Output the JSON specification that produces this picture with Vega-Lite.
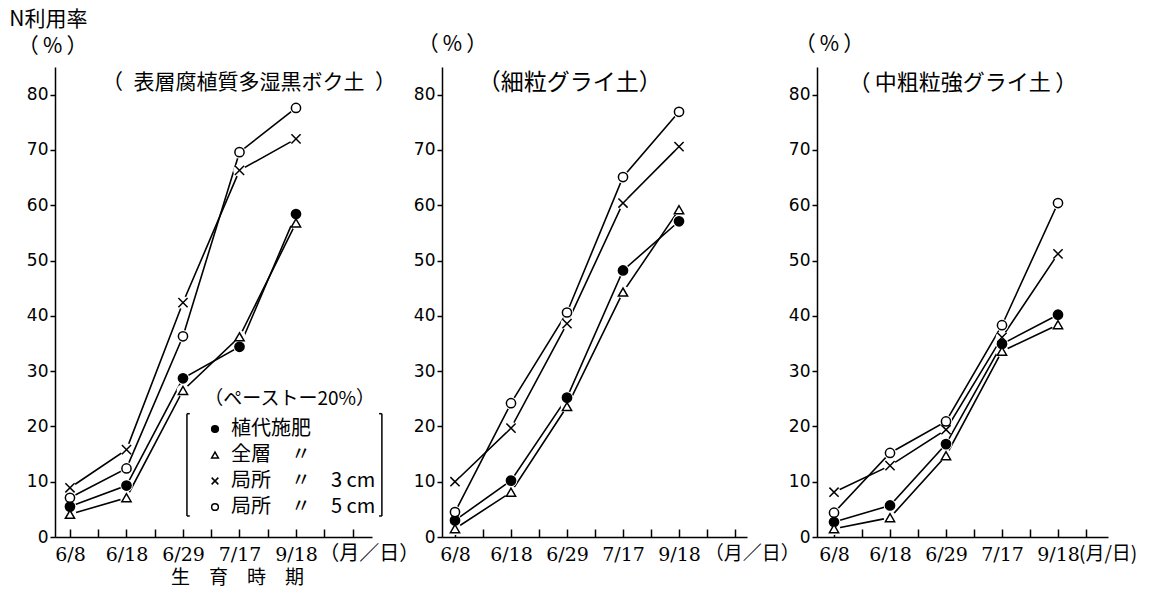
{
  "$schema": "https://vega.github.io/schema/vega-lite/v6.json",
  "padding": {"left": 8, "top": 8, "right": 5, "bottom": 0},
  "spacing": 70,
  "bounds": "flush",
  "config": {
    "view": {"stroke": null},
    "font": "Noto Sans CJK JP",
    "axis": {"grid": false, "domainColor": "black", "domainWidth": 1.5, "tickColor": "black", "tickWidth": 1.5, "labelColor": "black", "titleColor": "black", "titleFontWeight": "normal", "titleFont": "Noto Sans CJK JP", "titleFontSize": 21, "labelOverlap": false},
    "axisX": {"values": [0, 1, 2, 3, 4], "labelExpr": "['6/8','6/18','6/29','7/17','9/18'][datum.value]", "tickSize": -8, "labelFont": "DejaVu Serif", "labelFontSize": 19, "labelPadding": 16, "labelFlush": false},
    "axisY": {"values": [10, 20, 30, 40, 50, 60, 70, 80], "tickSize": 5, "labelFont": "DejaVu Sans", "labelFontSize": 17, "labelPadding": 2, "titleAngle": 0, "titleAlign": "center", "titleBaseline": "middle"},
    "legend": {"symbolStrokeColor": "black", "symbolStrokeWidth": 1.5}
  },
  "data": {"values": [
    {"soil": "表層腐植質多湿黒ボク土", "idx": 0, "date": "6/8", "series": "植代施肥", "value": 5.5},
    {"soil": "表層腐植質多湿黒ボク土", "idx": 1, "date": "6/18", "series": "植代施肥", "value": 9.3},
    {"soil": "表層腐植質多湿黒ボク土", "idx": 2, "date": "6/29", "series": "植代施肥", "value": 28.7},
    {"soil": "表層腐植質多湿黒ボク土", "idx": 3, "date": "7/17", "series": "植代施肥", "value": 34.4},
    {"soil": "表層腐植質多湿黒ボク土", "idx": 4, "date": "9/18", "series": "植代施肥", "value": 58.4},
    {"soil": "表層腐植質多湿黒ボク土", "idx": 0, "date": "6/8", "series": "全層", "value": 4.1},
    {"soil": "表層腐植質多湿黒ボク土", "idx": 1, "date": "6/18", "series": "全層", "value": 7.1},
    {"soil": "表層腐植質多湿黒ボク土", "idx": 2, "date": "6/29", "series": "全層", "value": 26.5},
    {"soil": "表層腐植質多湿黒ボク土", "idx": 3, "date": "7/17", "series": "全層", "value": 36.2},
    {"soil": "表層腐植質多湿黒ボク土", "idx": 4, "date": "9/18", "series": "全層", "value": 56.8},
    {"soil": "表層腐植質多湿黒ボク土", "idx": 0, "date": "6/8", "series": "局所3cm", "value": 8.9},
    {"soil": "表層腐植質多湿黒ボク土", "idx": 1, "date": "6/18", "series": "局所3cm", "value": 15.8},
    {"soil": "表層腐植質多湿黒ボク土", "idx": 2, "date": "6/29", "series": "局所3cm", "value": 42.4},
    {"soil": "表層腐植質多湿黒ボク土", "idx": 3, "date": "7/17", "series": "局所3cm", "value": 66.3},
    {"soil": "表層腐植質多湿黒ボク土", "idx": 4, "date": "9/18", "series": "局所3cm", "value": 72.0},
    {"soil": "表層腐植質多湿黒ボク土", "idx": 0, "date": "6/8", "series": "局所5cm", "value": 7.1},
    {"soil": "表層腐植質多湿黒ボク土", "idx": 1, "date": "6/18", "series": "局所5cm", "value": 12.4},
    {"soil": "表層腐植質多湿黒ボク土", "idx": 2, "date": "6/29", "series": "局所5cm", "value": 36.3},
    {"soil": "表層腐植質多湿黒ボク土", "idx": 3, "date": "7/17", "series": "局所5cm", "value": 69.6},
    {"soil": "表層腐植質多湿黒ボク土", "idx": 4, "date": "9/18", "series": "局所5cm", "value": 77.6},
    {"soil": "細粒グライ土", "idx": 0, "date": "6/8", "series": "植代施肥", "value": 3.0},
    {"soil": "細粒グライ土", "idx": 1, "date": "6/18", "series": "植代施肥", "value": 10.2},
    {"soil": "細粒グライ土", "idx": 2, "date": "6/29", "series": "植代施肥", "value": 25.2},
    {"soil": "細粒グライ土", "idx": 3, "date": "7/17", "series": "植代施肥", "value": 48.2},
    {"soil": "細粒グライ土", "idx": 4, "date": "9/18", "series": "植代施肥", "value": 57.1},
    {"soil": "細粒グライ土", "idx": 0, "date": "6/8", "series": "全層", "value": 1.5},
    {"soil": "細粒グライ土", "idx": 1, "date": "6/18", "series": "全層", "value": 8.1},
    {"soil": "細粒グライ土", "idx": 2, "date": "6/29", "series": "全層", "value": 23.6},
    {"soil": "細粒グライ土", "idx": 3, "date": "7/17", "series": "全層", "value": 44.3},
    {"soil": "細粒グライ土", "idx": 4, "date": "9/18", "series": "全層", "value": 59.2},
    {"soil": "細粒グライ土", "idx": 0, "date": "6/8", "series": "局所3cm", "value": 10.0},
    {"soil": "細粒グライ土", "idx": 1, "date": "6/18", "series": "局所3cm", "value": 19.7},
    {"soil": "細粒グライ土", "idx": 2, "date": "6/29", "series": "局所3cm", "value": 38.6},
    {"soil": "細粒グライ土", "idx": 3, "date": "7/17", "series": "局所3cm", "value": 60.4},
    {"soil": "細粒グライ土", "idx": 4, "date": "9/18", "series": "局所3cm", "value": 70.6},
    {"soil": "細粒グライ土", "idx": 0, "date": "6/8", "series": "局所5cm", "value": 4.5},
    {"soil": "細粒グライ土", "idx": 1, "date": "6/18", "series": "局所5cm", "value": 24.2},
    {"soil": "細粒グライ土", "idx": 2, "date": "6/29", "series": "局所5cm", "value": 40.6},
    {"soil": "細粒グライ土", "idx": 3, "date": "7/17", "series": "局所5cm", "value": 65.1},
    {"soil": "細粒グライ土", "idx": 4, "date": "9/18", "series": "局所5cm", "value": 76.9},
    {"soil": "中粗粒強グライ土", "idx": 0, "date": "6/8", "series": "植代施肥", "value": 2.7},
    {"soil": "中粗粒強グライ土", "idx": 1, "date": "6/18", "series": "植代施肥", "value": 5.7},
    {"soil": "中粗粒強グライ土", "idx": 2, "date": "6/29", "series": "植代施肥", "value": 16.8},
    {"soil": "中粗粒強グライ土", "idx": 3, "date": "7/17", "series": "植代施肥", "value": 34.9},
    {"soil": "中粗粒強グライ土", "idx": 4, "date": "9/18", "series": "植代施肥", "value": 40.2},
    {"soil": "中粗粒強グライ土", "idx": 0, "date": "6/8", "series": "全層", "value": 1.5},
    {"soil": "中粗粒強グライ土", "idx": 1, "date": "6/18", "series": "全層", "value": 3.5},
    {"soil": "中粗粒強グライ土", "idx": 2, "date": "6/29", "series": "全層", "value": 14.7},
    {"soil": "中粗粒強グライ土", "idx": 3, "date": "7/17", "series": "全層", "value": 33.6},
    {"soil": "中粗粒強グライ土", "idx": 4, "date": "9/18", "series": "全層", "value": 38.4},
    {"soil": "中粗粒強グライ土", "idx": 0, "date": "6/8", "series": "局所3cm", "value": 8.1},
    {"soil": "中粗粒強グライ土", "idx": 1, "date": "6/18", "series": "局所3cm", "value": 12.9},
    {"soil": "中粗粒強グライ土", "idx": 2, "date": "6/29", "series": "局所3cm", "value": 19.4},
    {"soil": "中粗粒強グライ土", "idx": 3, "date": "7/17", "series": "局所3cm", "value": 36.1},
    {"soil": "中粗粒強グライ土", "idx": 4, "date": "9/18", "series": "局所3cm", "value": 51.2},
    {"soil": "中粗粒強グライ土", "idx": 0, "date": "6/8", "series": "局所5cm", "value": 4.4},
    {"soil": "中粗粒強グライ土", "idx": 1, "date": "6/18", "series": "局所5cm", "value": 15.2},
    {"soil": "中粗粒強グライ土", "idx": 2, "date": "6/29", "series": "局所5cm", "value": 20.9},
    {"soil": "中粗粒強グライ土", "idx": 3, "date": "7/17", "series": "局所5cm", "value": 38.3},
    {"soil": "中粗粒強グライ土", "idx": 4, "date": "9/18", "series": "局所5cm", "value": 60.4}
  ]},
  "resolve": {"scale": {"shape": "independent", "fill": "independent", "stroke": "independent"}, "legend": {"shape": "independent", "fill": "independent", "stroke": "independent"}},
  "hconcat": [
    {
      "width": 317, "height": 470,
      "transform": [{"filter": "datum.soil === '表層腐植質多湿黒ボク土'"}],
      "layer": [
        {"mark": {"type": "line", "color": "black", "strokeWidth": 1.6},
         "encoding": {
           "x": {"field": "idx", "type": "quantitative", "scale": {"domain": [-0.265, 5.345], "nice": false, "zero": false}, "axis": {"title": "生　育　時　期", "titleX": 182, "titleY": 40, "titleAlign": "center", "titleBaseline": "middle", "titleFontSize": 19}},
           "y": {"field": "value", "type": "quantitative", "scale": {"domain": [0, 85], "nice": false}, "axis": {"title": ["N利用率", "（\u2009%\u2009）"], "titleAlign": "right", "titleX": 32, "titleY": -48, "titleLineHeight": 27, "titleFontSize": 21}},
           "detail": {"field": "series"}}},
        {"mark": {"type": "point", "filled": true, "fill": "white", "opacity": 1, "size": 160, "shape": "circle", "strokeWidth": 0},
         "encoding": {"x": {"field": "idx", "type": "quantitative"}, "y": {"field": "value", "type": "quantitative"}}},
        {"mark": {"type": "point", "filled": true, "strokeWidth": 1.5, "opacity": 1, "size": 85},
         "encoding": {
           "x": {"field": "idx", "type": "quantitative"}, "y": {"field": "value", "type": "quantitative"},
           "shape": {"field": "series", "type": "nominal", "scale": {"domain": ["植代施肥", "全層", "局所3cm", "局所5cm"], "range": ["circle", "triangle-up", "M-1,-1L1,1M-1,1L1,-1", "circle"]},
             "legend": {"orient": "none", "legendX": 148, "legendY": 323, "title": "（ペーストー20%）", "titleFont": "Noto Sans CJK JP", "titleFontSize": 19, "titleFontWeight": "normal", "titleColor": "black", "titleAnchor": "end", "titlePadding": 10, "labelFont": "Noto Sans CJK JP", "labelFontSize": 20, "labelColor": "black", "labelOffset": 6, "rowPadding": 6, "symbolSize": 45,
               "labelExpr": "datum.label == '植代施肥' ? '植代施肥' : datum.label == '全層' ? '全層　〃' : datum.label == '局所3cm' ? '局所　〃　3 cm' : '局所　〃　5 cm'"}},
           "fill": {"field": "series", "type": "nominal", "scale": {"domain": ["植代施肥", "全層", "局所3cm", "局所5cm"], "range": ["black", "white", "white", "white"]},
             "legend": {"orient": "none", "legendX": 148, "legendY": 323, "title": "（ペーストー20%）", "titleFont": "Noto Sans CJK JP", "titleFontSize": 19, "titleFontWeight": "normal", "titleColor": "black", "titleAnchor": "end", "titlePadding": 10, "labelFont": "Noto Sans CJK JP", "labelFontSize": 20, "labelColor": "black", "labelOffset": 6, "rowPadding": 6, "symbolSize": 45,
               "labelExpr": "datum.label == '植代施肥' ? '植代施肥' : datum.label == '全層' ? '全層　〃' : datum.label == '局所3cm' ? '局所　〃　3 cm' : '局所　〃　5 cm'"}},
           "stroke": {"field": "series", "type": "nominal", "scale": {"domain": ["植代施肥", "全層", "局所3cm", "局所5cm"], "range": ["black", "black", "black", "black"]},
             "legend": {"orient": "none", "legendX": 148, "legendY": 323, "title": "（ペーストー20%）", "titleFont": "Noto Sans CJK JP", "titleFontSize": 19, "titleFontWeight": "normal", "titleColor": "black", "titleAnchor": "end", "titlePadding": 10, "labelFont": "Noto Sans CJK JP", "labelFontSize": 20, "labelColor": "black", "labelOffset": 6, "rowPadding": 6, "symbolSize": 45,
               "labelExpr": "datum.label == '植代施肥' ? '植代施肥' : datum.label == '全層' ? '全層　〃' : datum.label == '局所3cm' ? '局所　〃　3 cm' : '局所　〃　5 cm'"}}}},
        {"data": {"values": [{}]}, "mark": {"type": "text", "fontSize": 21, "align": "center", "baseline": "middle", "color": "black"},
         "encoding": {"x": {"datum": 3.17}, "y": {"datum": 82.1}, "text": {"value": "（\u2002表層腐植質多湿黒ボク土\u2002）"}}},
        {"data": {"values": [{}]}, "mark": {"type": "text", "fontSize": 20, "align": "left", "baseline": "middle", "dy": 17, "color": "black"},
         "encoding": {"x": {"datum": 4.41}, "y": {"datum": 0}, "text": {"value": "（月／日）"}}},
        {"data": {"values": [{}]}, "mark": {"type": "rule", "color": "black", "strokeWidth": 1.5},
         "encoding": {"x": {"datum": 2.07}, "y": {"datum": 22.3}, "y2": {"datum": 3.8}}},
        {"data": {"values": [{}]}, "mark": {"type": "rule", "color": "black", "strokeWidth": 1.5},
         "encoding": {"x": {"datum": 2.07}, "x2": {"datum": 2.12}, "y": {"datum": 22.3}}},
        {"data": {"values": [{}]}, "mark": {"type": "rule", "color": "black", "strokeWidth": 1.5},
         "encoding": {"x": {"datum": 2.07}, "x2": {"datum": 2.12}, "y": {"datum": 3.8}}},
        {"data": {"values": [{}]}, "mark": {"type": "rule", "color": "black", "strokeWidth": 1.5},
         "encoding": {"x": {"datum": 5.52}, "y": {"datum": 22.3}, "y2": {"datum": 3.8}}},
        {"data": {"values": [{}]}, "mark": {"type": "rule", "color": "black", "strokeWidth": 1.5},
         "encoding": {"x": {"datum": 5.47}, "x2": {"datum": 5.52}, "y": {"datum": 22.3}}},
        {"data": {"values": [{}]}, "mark": {"type": "rule", "color": "black", "strokeWidth": 1.5},
         "encoding": {"x": {"datum": 5.47}, "x2": {"datum": 5.52}, "y": {"datum": 3.8}}}
      ]
    },
    {
      "width": 305, "height": 470,
      "transform": [{"filter": "datum.soil === '細粒グライ土'"}],
      "layer": [
        {"mark": {"type": "line", "color": "black", "strokeWidth": 1.6},
         "encoding": {
           "x": {"field": "idx", "type": "quantitative", "scale": {"domain": [-0.232, 5.214], "nice": false, "zero": false}, "axis": {"title": null}},
           "y": {"field": "value", "type": "quantitative", "scale": {"domain": [0, 85], "nice": false}, "axis": {"title": "（\u2009%\u2009）", "titleX": 10, "titleY": -23}},
           "detail": {"field": "series"}}},
        {"mark": {"type": "point", "filled": true, "fill": "white", "opacity": 1, "size": 160, "shape": "circle", "strokeWidth": 0},
         "encoding": {"x": {"field": "idx", "type": "quantitative"}, "y": {"field": "value", "type": "quantitative"}}},
        {"mark": {"type": "point", "filled": true, "stroke": "black", "strokeWidth": 1.5, "opacity": 1, "size": 85},
         "encoding": {
           "x": {"field": "idx", "type": "quantitative"}, "y": {"field": "value", "type": "quantitative"},
           "shape": {"field": "series", "type": "nominal", "scale": {"domain": ["植代施肥", "全層", "局所3cm", "局所5cm"], "range": ["circle", "triangle-up", "M-1,-1L1,1M-1,1L1,-1", "circle"]}, "legend": null},
           "fill": {"field": "series", "type": "nominal", "scale": {"domain": ["植代施肥", "全層", "局所3cm", "局所5cm"], "range": ["black", "white", "white", "white"]}, "legend": null}}},
        {"data": {"values": [{}]}, "mark": {"type": "text", "fontSize": 23, "align": "center", "baseline": "middle", "color": "black"},
         "encoding": {"x": {"datum": 2.05}, "y": {"datum": 82.1}, "text": {"value": "（細粒グライ土）"}}},
        {"data": {"values": [{}]}, "mark": {"type": "text", "fontSize": 19, "align": "left", "baseline": "middle", "dy": 17, "color": "black"},
         "encoding": {"x": {"datum": 4.46}, "y": {"datum": 0}, "text": {"value": "（月／日）"}}}
      ]
    },
    {
      "width": 291, "height": 470,
      "transform": [{"filter": "datum.soil === '中粗粒強グライ土'"}],
      "layer": [
        {"mark": {"type": "line", "color": "black", "strokeWidth": 1.6},
         "encoding": {
           "x": {"field": "idx", "type": "quantitative", "scale": {"domain": [-0.304, 4.893], "nice": false, "zero": false}, "axis": {"title": null}},
           "y": {"field": "value", "type": "quantitative", "scale": {"domain": [0, 85], "nice": false}, "axis": {"title": "（\u2009%\u2009）", "titleX": 12, "titleY": -23}},
           "detail": {"field": "series"}}},
        {"mark": {"type": "point", "filled": true, "fill": "white", "opacity": 1, "size": 160, "shape": "circle", "strokeWidth": 0},
         "encoding": {"x": {"field": "idx", "type": "quantitative"}, "y": {"field": "value", "type": "quantitative"}}},
        {"mark": {"type": "point", "filled": true, "stroke": "black", "strokeWidth": 1.5, "opacity": 1, "size": 85},
         "encoding": {
           "x": {"field": "idx", "type": "quantitative"}, "y": {"field": "value", "type": "quantitative"},
           "shape": {"field": "series", "type": "nominal", "scale": {"domain": ["植代施肥", "全層", "局所3cm", "局所5cm"], "range": ["circle", "triangle-up", "M-1,-1L1,1M-1,1L1,-1", "circle"]}, "legend": null},
           "fill": {"field": "series", "type": "nominal", "scale": {"domain": ["植代施肥", "全層", "局所3cm", "局所5cm"], "range": ["black", "white", "white", "white"]}, "legend": null}}},
        {"data": {"values": [{}]}, "mark": {"type": "text", "fontSize": 22, "align": "center", "baseline": "middle", "color": "black"},
         "encoding": {"x": {"datum": 2.3}, "y": {"datum": 82.1}, "text": {"value": "（\u2009中粗粒強グライ土\u2009）"}}},
        {"data": {"values": [{}]}, "mark": {"type": "text", "fontSize": 19, "align": "left", "baseline": "middle", "dy": 17, "color": "black"},
         "encoding": {"x": {"datum": 4.375}, "y": {"datum": 0}, "text": {"value": "(月/日)"}}}
      ]
    }
  ]
}
